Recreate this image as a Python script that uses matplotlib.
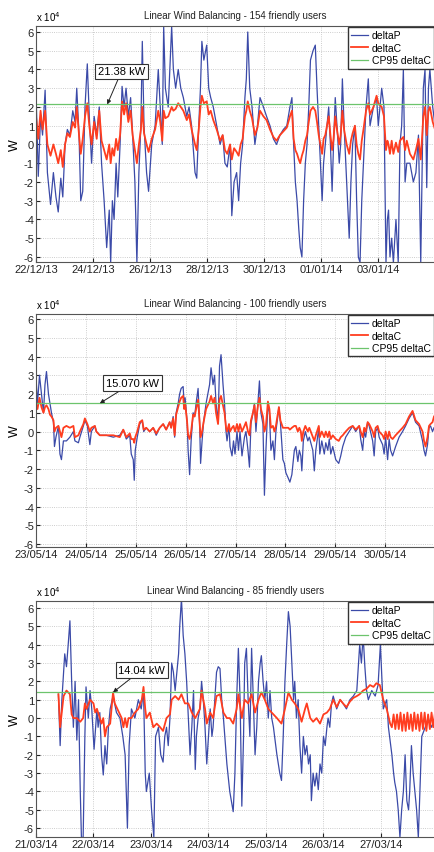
import matplotlib
matplotlib.use('Agg')
import matplotlib.pyplot as plt
import matplotlib.dates as mdates
import pandas as pd

plt.rcParams['font.family'] = ['Liberation Sans', 'DejaVu Sans']
plt.rcParams['axes.unicode_minus'] = False

# ---------------- Panel 1 : 154 friendly users (values in x10^4 W) ----------------
p1_title = 'Linear Wind Balancing - 154 friendly users'
p1_start = '2013-12-22'
p1_span = 14.0
p1_ticks = pd.date_range('2013-12-22', '2014-01-03', freq='2D')
p1_cp95 = 2.138
p1_note = '21.38 kW'
p1_days = [0.00, 0.08, 0.16, 0.23, 0.32, 0.40, 0.51, 0.61, 0.70, 0.78,
           0.87, 0.94, 1.02, 1.10, 1.19, 1.29, 1.37, 1.43, 1.51, 1.57,
           1.64, 1.72, 1.80, 1.87, 1.95, 2.04, 2.13, 2.22, 2.30, 2.39,
           2.48, 2.57, 2.62, 2.68, 2.74, 2.81, 2.87, 2.95, 3.02, 3.09,
           3.16, 3.24, 3.32, 3.39, 3.47, 3.54, 3.61, 3.68, 3.73, 3.79,
           3.88, 3.95, 4.06, 4.18, 4.29, 4.36, 4.43, 4.48, 4.54, 4.64,
           4.76, 4.82, 4.90, 4.99, 5.08, 5.17, 5.29, 5.37, 5.46, 5.58,
           5.64, 5.71, 5.77, 5.82, 5.89, 5.99, 6.06, 6.13, 6.22, 6.34,
           6.46, 6.55, 6.63, 6.71, 6.81, 6.87, 6.95, 7.04, 7.11, 7.18,
           7.25, 7.33, 7.38, 7.43, 7.50, 7.58, 7.68, 7.77, 7.86, 7.98,
           8.09, 8.21, 8.33, 8.44, 8.56, 8.68, 8.80, 8.91, 8.98, 9.04,
           9.10, 9.16, 9.22, 9.27, 9.33, 9.39, 9.45, 9.51, 9.57, 9.63,
           9.72, 9.80, 9.86, 9.92, 9.98, 10.04, 10.09, 10.15, 10.21, 10.27,
           10.33, 10.39, 10.44, 10.50, 10.56, 10.64, 10.69, 10.75, 10.81, 10.90,
           10.99, 11.05, 11.11, 11.19, 11.25, 11.31, 11.37, 11.43, 11.49, 11.58,
           11.66, 11.72, 11.84, 11.95, 12.01, 12.13, 12.21, 12.28, 12.33, 12.37,
           12.42, 12.48, 12.54, 12.63, 12.71, 12.77, 12.83, 12.89, 12.95, 13.01,
           13.12, 13.24, 13.33, 13.42, 13.50, 13.59, 13.65, 13.71, 13.77, 13.82,
           13.92, 14.00]
p1_dP = [2.8, -1.7, 1.5, 0.5, 2.9, -1.5, -3.2, -1.5, -2.8, -3.6,
         -1.8, -2.8, 0.0, 0.8, 0.5, 1.8, 1.2, 3.0, 0.5, -3.0,
         -2.5, 2.0, 4.3, 1.5, -1.0, 1.5, 0.5, 2.0, -1.0, -3.0,
         -5.5, -3.5, -6.3, -3.0, -4.0, -1.0, -2.8, 0.0, 3.1, 2.0,
         3.0, 1.5, 2.5, 0.5, -2.0, -6.3, -1.5, 1.0, 5.5, 1.0,
         -1.5, -2.5, 0.0, 1.0, 4.0, 2.0, 0.0, 6.3, 3.0, 2.0,
         6.3, 4.0, 3.0, 4.0, 3.0, 2.5, 1.5, 2.0, 1.0, -1.5,
         -1.8, 1.0, 3.0, 5.5, 4.5, 5.3, 3.0, 2.5, 2.0, 1.0,
         0.0, 0.5, -1.0, -1.2, 0.0, -3.8, -2.0, -1.5, -3.0, -1.0,
         0.0, 2.5, 3.5, 6.0, 3.0, 2.0, 0.0, 1.0, 2.5, 2.0,
         1.5, 1.0, 0.3, 0.0, 0.5, 0.8, 1.0, 2.0, 2.5, 0.0,
         -2.0, -3.0, -4.5, -5.5, -6.0, -3.0, -1.0, 0.0, 2.0, 4.5,
         5.0, 5.3, 3.0, 1.0, -1.0, -3.0, -1.0, 0.0, 1.0, 2.0,
         0.0, -2.5, 0.0, 2.5, 1.0, -1.0, 0.0, 3.5, 1.0, -2.0,
         -5.0, -2.0, 0.0, 1.0, -3.0, -6.0, -6.3, -3.0, -1.0, 2.0,
         3.5, 1.0, 2.0, 2.5, 1.0, 3.0, 2.0, -6.3, -4.0, -3.5,
         -6.0, -5.0, -6.3, -4.0, -6.3, 0.0, 1.0, 4.0, -2.0, -1.0,
         -1.0, -2.0, -1.5, 0.5, -6.3, 3.0, 4.0, -2.3, 3.0, 4.0,
         2.0, 1.0]
p1_dC = [1.5, 0.3, 1.8, 0.8, 1.8, 0.0, -0.6, 0.0, -0.5, -1.0,
         -0.3, -1.2, 0.0, 0.6, 0.4, 1.2, 0.9, 2.0, 0.5, -0.5,
         0.3, 1.5, 2.2, 1.0, 0.0, 1.2, 0.3, 1.8, 0.2, -0.3,
         -0.8, 0.0, -1.0, -0.2, -0.6, 0.3, -0.3, 0.5, 2.3, 1.6,
         2.2, 1.2, 1.8, 0.5, -0.3, -1.0, 0.0, 0.8, 2.0, 0.6,
         0.0, -0.4, 0.3, 0.8, 1.8, 1.2, 0.2, 1.8, 1.4, 1.5,
         2.0, 1.8, 1.9, 2.2, 2.0, 1.8, 1.3, 1.6, 0.8, 0.0,
         -0.3, 0.8, 2.0, 2.6, 2.2, 2.3, 1.6, 1.8, 1.3, 0.8,
         0.2, 0.5, -0.3, -0.5, 0.0, -0.8, -0.2, -0.4, -0.6, 0.0,
         0.3, 1.5, 1.8, 2.3, 1.8, 1.4, 0.5, 0.9, 1.8, 1.5,
         1.3, 0.8, 0.4, 0.2, 0.5, 0.7, 0.9, 1.5, 1.8, 0.3,
         -0.3, -0.5, -0.8, -1.0, -0.6, -0.3, 0.2, 0.5, 1.2, 1.8,
         2.0, 1.8, 1.2, 0.5, 0.0, -0.5, 0.3, 0.5, 1.0, 1.5,
         0.5, -0.3, 0.3, 1.5, 0.8, 0.0, 0.5, 1.8, 0.8, 0.0,
         -0.5, 0.2, 0.6, 1.0, 0.0, -0.5, -0.8, 0.2, 0.8, 1.8,
         2.2, 1.6, 2.0, 2.6, 2.2, 2.0, 1.5, -0.3, 0.2, 0.0,
         -0.5, 0.2, -0.5, 0.1, -0.4, 0.2, 0.3, 0.4, -0.3, 0.2,
         -0.5, -0.8, -0.3, 0.3, -0.8, 1.5, 2.0, 0.5, 1.8, 2.0,
         1.2, 0.8]

# ---------------- Panel 2 : 100 friendly users ----------------
p2_title = 'Linear Wind Balancing - 100 friendly users'
p2_start = '2014-05-23'
p2_span = 8.0
p2_ticks = pd.date_range('2014-05-23', '2014-05-30', freq='D')
p2_cp95 = 1.507
p2_note = '15.070 kW'
p2_days = [0.00, 0.03, 0.07, 0.11, 0.15, 0.18, 0.21, 0.25, 0.28, 0.31,
           0.35, 0.37, 0.40, 0.45, 0.48, 0.51, 0.55, 0.61, 0.68, 0.75,
           0.78, 0.85, 0.88, 0.95, 0.98, 1.03, 1.08, 1.11, 1.18, 1.21,
           1.28, 1.41, 1.55, 1.68, 1.75, 1.81, 1.88, 1.91, 1.95, 1.97,
           1.99, 2.03, 2.08, 2.13, 2.16, 2.21, 2.28, 2.35, 2.41, 2.48,
           2.55, 2.61, 2.68, 2.71, 2.75, 2.78, 2.81, 2.85, 2.88, 2.91,
           2.95, 2.97, 2.99, 3.03, 3.05, 3.08, 3.11, 3.15, 3.18, 3.21,
           3.25, 3.28, 3.30, 3.33, 3.36, 3.41, 3.48, 3.51, 3.55, 3.58,
           3.61, 3.65, 3.68, 3.71, 3.75, 3.78, 3.81, 3.83, 3.87, 3.89,
           3.93, 3.96, 3.99, 4.03, 4.06, 4.09, 4.13, 4.18, 4.21, 4.25,
           4.28, 4.31, 4.35, 4.38, 4.41, 4.45, 4.48, 4.51, 4.55, 4.58,
           4.61, 4.65, 4.68, 4.71, 4.75, 4.78, 4.81, 4.87, 4.90, 4.95,
           4.98, 5.01, 5.06, 5.09, 5.13, 5.18, 5.21, 5.25, 5.28, 5.31,
           5.33, 5.36, 5.40, 5.45, 5.48, 5.55, 5.58, 5.61, 5.67, 5.69,
           5.73, 5.78, 5.81, 5.85, 5.88, 5.91, 5.95, 6.01, 6.07, 6.11,
           6.15, 6.21, 6.28, 6.35, 6.41, 6.48, 6.51, 6.55, 6.58, 6.61,
           6.65, 6.68, 6.75, 6.78, 6.81, 6.85, 6.88, 6.95, 6.98, 7.01,
           7.05, 7.08, 7.11, 7.15, 7.21, 7.28, 7.35, 7.41, 7.48, 7.55,
           7.61, 7.68, 7.75, 7.78, 7.81, 7.85, 7.88, 7.91, 7.95, 7.98]
p2_dP = [2.9, 1.5, 3.0, 2.0, 1.0, 2.5, 3.2, 2.0, 1.5, 1.0,
         0.5, -0.8, -0.3, 0.3, -1.2, -1.5, -0.5, -0.5, -0.3, 0.0,
         -0.5, -0.6, -0.3, 0.3, 0.6, 0.3, -0.7, 0.0, 0.3, 0.0,
         -0.2, -0.2, -0.3, -0.2, 0.1, -0.4, -0.2, -1.2, -1.5, -2.6,
         -1.0, -0.3, 0.4, 0.6, 0.0, 0.2, 0.0, 0.2, -0.2, 0.2,
         0.4, 0.1, 0.5, 0.2, 0.8, -0.3, 1.0, 1.5, 2.0, 2.3,
         2.4, 1.5, 1.8, 0.5, -1.0, -2.3, -0.5, 1.0, 0.8, 1.5,
         2.3, 0.5, -1.7, -0.5, 0.5, 1.5, 2.5, 3.4, 2.5, 3.0,
         1.5, 0.5, 3.5, 4.1, 2.5, 1.5, 0.0, -0.5, 0.3, -0.8,
         -1.3, -0.5, -1.2, 0.0, -1.0, 0.0, -1.3, -0.3, 0.0, -1.0,
         -1.9, 0.4, 1.0, 1.5, 0.0, 1.5, 2.7, 1.0, 0.4, -3.4,
         -1.0, 1.5, 1.0, -1.0, -0.5, -1.5, 0.0, 1.3, 0.5, -1.5,
         -1.7, -2.2, -2.5, -2.7, -2.3, -1.0, -0.8, -1.6, -1.0, -1.3,
         -2.1, -0.5, 0.0, -0.5, -0.3, -1.0, -2.1, -1.0, 0.2, -1.2,
         -0.5, -1.2, -0.6, -1.0, -0.4, -1.2, -0.8, -1.5, -1.7, -1.3,
         -0.8, -0.3, 0.0, 0.3, 0.0, 0.3, -0.4, -1.0, 0.0, -0.3,
         0.5, 0.3, -0.5, -1.3, 0.0, 0.2, -0.3, -0.7, -1.2, -0.3,
         -1.5, -0.4, -1.0, -1.3, -0.8, -0.3, 0.0, 0.3, 0.7, 1.0,
         0.5, 0.3, -0.5, -1.0, -1.3, -0.7, 0.2, 0.3, 0.0, 0.2]
p2_dC = [1.5, 1.2, 1.8, 1.3, 1.0, 1.3, 1.4, 1.2, 0.9, 0.8,
         0.6, 0.0, 0.2, 0.3, 0.0, -0.3, 0.2, 0.3, 0.2, 0.3,
         -0.3, -0.2, 0.0, 0.4, 0.7, 0.4, 0.0, 0.2, 0.3, 0.0,
         -0.2, -0.2, -0.2, -0.3, 0.1, -0.3, -0.1, -0.4, -0.4, -0.6,
         -0.3, 0.0, 0.5, 0.6, 0.1, 0.2, 0.0, 0.2, -0.1, 0.2,
         0.4, 0.1, 0.5, 0.2, 0.7, -0.2, 0.9, 1.3, 1.6, 1.8,
         1.9, 1.2, 1.5, 0.5, -0.2, -0.4, 0.0, 0.9, 0.8, 1.2,
         1.7, 0.5, -0.3, 0.0, 0.5, 1.2, 1.6, 1.9, 1.5, 1.8,
         1.0, 0.4, 1.7, 1.9, 1.4, 1.0, 0.2, 0.0, 0.4, 0.0,
         0.2, 0.3, 0.0, 0.4, 0.0, 0.4, 0.0, 0.3, 0.5, 0.0,
         -0.2, 0.6, 1.0, 1.4, 0.5, 1.4, 1.8, 1.2, 0.8, 0.0,
         0.3, 1.6, 1.2, 0.2, 0.3, 0.0, 0.3, 1.3, 0.6, 0.2,
         0.2, 0.2, 0.2, 0.1, 0.2, 0.3, 0.3, 0.0, 0.2, 0.0,
         -0.5, 0.0, 0.3, 0.0, 0.2, -0.3, -0.5, -0.2, 0.3, -0.3,
         0.0, -0.3, 0.0, -0.3, 0.0, -0.4, -0.2, -0.4, -0.5, -0.3,
         -0.2, 0.0, 0.2, 0.3, 0.1, 0.3, 0.0, -0.3, 0.2, 0.0,
         0.5, 0.4, 0.0, -0.3, 0.2, 0.3, 0.0, -0.2, -0.4, 0.0,
         -0.4, 0.0, -0.3, -0.4, -0.2, 0.0, 0.2, 0.4, 0.8, 1.1,
         0.6, 0.4, 0.0, -0.5, -0.8, -0.3, 0.3, 0.4, 0.5, 0.8]

# ---------------- Panel 3 : 85 friendly users ----------------
p3_title = 'Linear Wind Balancing - 85 friendly users'
p3_start = '2014-03-21'
p3_span = 6.94
p3_ticks = pd.date_range('2014-03-21', '2014-03-27', freq='D')
p3_cp95 = 1.404
p3_note = '14.04 kW'
p3_days = [0.39, 0.42, 0.45, 0.48, 0.50, 0.53, 0.56, 0.59, 0.62, 0.65,
           0.68, 0.71, 0.74, 0.77, 0.79, 0.82, 0.85, 0.87, 0.91, 0.94,
           0.97, 1.01, 1.06, 1.08, 1.11, 1.14, 1.17, 1.20, 1.23, 1.26,
           1.29, 1.34, 1.40, 1.46, 1.51, 1.55, 1.59, 1.62, 1.66, 1.72,
           1.78, 1.83, 1.87, 1.90, 1.92, 1.97, 2.01, 2.05, 2.08, 2.13,
           2.17, 2.21, 2.24, 2.27, 2.30, 2.33, 2.36, 2.39, 2.42, 2.45,
           2.48, 2.50, 2.53, 2.56, 2.59, 2.62, 2.65, 2.68, 2.71, 2.74,
           2.77, 2.79, 2.82, 2.85, 2.88, 2.91, 2.94, 2.97, 3.00, 3.03,
           3.06, 3.08, 3.11, 3.14, 3.17, 3.20, 3.23, 3.26, 3.32, 3.37,
           3.43, 3.46, 3.49, 3.52, 3.55, 3.58, 3.61, 3.63, 3.66, 3.69,
           3.72, 3.75, 3.78, 3.81, 3.84, 3.87, 3.90, 3.92, 3.95, 3.98,
           4.01, 4.04, 4.07, 4.10, 4.13, 4.19, 4.24, 4.27, 4.30, 4.33,
           4.36, 4.39, 4.42, 4.45, 4.48, 4.50, 4.53, 4.56, 4.59, 4.62,
           4.65, 4.68, 4.71, 4.74, 4.77, 4.79, 4.82, 4.85, 4.88, 4.91,
           4.94, 4.97, 5.00, 5.03, 5.06, 5.08, 5.11, 5.14, 5.17, 5.23,
           5.29, 5.34, 5.40, 5.46, 5.52, 5.58, 5.61, 5.63, 5.66, 5.69,
           5.72, 5.75, 5.78, 5.84, 5.90, 5.95, 5.99, 6.04, 6.10, 6.13,
           6.19, 6.22, 6.24, 6.27, 6.30, 6.33, 6.36, 6.39, 6.42, 6.45,
           6.48, 6.50, 6.53, 6.56, 6.59, 6.62, 6.65, 6.71, 6.77, 6.82,
           6.88, 6.94]
p3_dP = [1.3, -1.5, 1.0, 2.5, 3.5, 2.8, 4.0, 5.3, 2.0, -0.5,
         2.0, -1.2, 1.0, -4.0, -6.5, -6.5, -1.0, 1.7, 0.0, 1.5,
         0.5, -1.7, 0.5, -0.5, 0.3, -2.0, -3.1, -1.5, -2.5, -0.5,
         0.5, 1.2, 0.3, 0.0, -1.0, -2.0, -6.0, -1.5, 0.5, 0.0,
         1.0, 0.5, 1.5, -3.0, -4.0, -3.0, -5.0, -6.5, -1.0, -0.5,
         -2.0, -2.4, -1.0, -0.5, -1.5, 0.0, 3.0, 2.5, 1.5, 2.5,
         3.5, 5.0, 6.5, 4.5, 3.5, 2.0, 0.0, -2.0, -0.5, 1.5,
         -2.8, -1.0, 0.0, 0.5, 2.0, 1.0, -0.5, -2.5, -1.0, 0.5,
         -1.0, -0.5, 1.0, 2.5, 2.8, 2.7, 1.0, 0.0, -2.5, -4.0,
         -5.1, -3.0, 1.0, 3.8, 1.0, -4.8, -1.0, 3.0, 3.8, 1.0,
         -1.0, 3.8, 1.0, -2.0, -0.5, 2.0, 3.0, 3.4, 2.0, 1.0,
         2.0, 0.0, 1.5, 0.0, -0.5, -2.0, -3.0, -3.4, -1.0, 2.0,
         4.0, 5.8, 5.0, 3.0, 1.0, 2.0, 0.0, 1.0, -1.5, -3.0,
         -1.0, -2.0, -1.5, -2.5, -2.0, -4.5, -3.0, -3.7, -3.0, -3.9,
         -2.5, -3.0, -1.0, -1.5, -0.5, 0.0, -0.5, 0.8, 1.2, 0.5,
         1.0, 0.8, 0.5, 1.0, 1.2, 1.5, 3.0, 4.0, 3.0, 4.5,
         2.8, 1.5, 1.0, 1.5, 1.2, 1.8, 4.0, 0.5, 1.0, -0.5,
         -2.0, -3.0, -3.5, -4.0, -5.0, -6.5, -5.0, -4.0, -2.0, -4.5,
         -5.0, -4.0, -1.5, -3.0, -4.0, -5.0, -6.5, -1.0, -0.5, 0.0,
         -0.5, 0.0]
p3_c_days = [0.39, 0.42, 0.48, 0.53, 0.59, 0.62, 0.65, 0.71, 0.77, 0.82,
             0.85, 0.88, 0.94, 1.00, 1.03, 1.06, 1.11, 1.14, 1.17, 1.20,
             1.23, 1.29, 1.34, 1.37, 1.49, 1.52, 1.55, 1.58, 1.61, 1.66,
             1.72, 1.78, 1.84, 1.87, 1.90, 1.92, 1.98, 2.04, 2.10, 2.16,
             2.21, 2.27, 2.33, 2.36, 2.42, 2.48, 2.53, 2.59, 2.65, 2.71,
             2.77, 2.85, 2.88, 2.94, 2.97, 3.03, 3.08, 3.14, 3.20, 3.26,
             3.32, 3.37, 3.43, 3.49, 3.52, 3.58, 3.63, 3.69, 3.75, 3.81,
             3.87, 3.92, 3.98, 4.04, 4.10, 4.19, 4.27, 4.33, 4.39, 4.45,
             4.50, 4.56, 4.62, 4.68, 4.71, 4.77, 4.82, 4.88, 4.94, 5.00,
             5.06, 5.11, 5.17, 5.23, 5.29, 5.34, 5.40, 5.46, 5.52, 5.58,
             5.63, 5.69, 5.75, 5.81, 5.87, 5.92, 5.98, 6.04, 6.10, 6.16,
             6.19, 6.22, 6.25, 6.28, 6.31, 6.34, 6.37, 6.40, 6.43, 6.46,
             6.49, 6.52, 6.55, 6.58, 6.61, 6.64, 6.67, 6.70, 6.73, 6.76,
             6.79, 6.82, 6.85, 6.88, 6.91, 6.94]
p3_dC = [1.3, -0.5, 1.2, 1.5, 1.3, 0.2, 0.0, 0.0, -0.2, 0.0,
         0.8, 0.5, 1.0, 0.8, 0.3, 0.5, 0.0, -0.3, 0.0, -1.0,
         -0.5, -0.3, 1.4, 0.8, 0.0, -0.5, 0.0, -0.5, 0.0, 0.0,
         0.3, 0.5, 1.0, 1.7, 0.5, 0.0, 0.3, -0.5, -0.3, -0.5,
         -0.7, 0.0, 0.2, 1.0, 1.2, 1.0, 1.3, 0.8, 0.8, 0.3,
         0.0, 0.5, 1.5, 0.5, -0.3, 0.3, 0.0, 1.2, 1.3, 0.3,
         0.0, 0.0, -0.3, 0.5, 1.3, 0.0, 1.0, 0.8, 1.3, 0.3,
         1.0, 1.4, 1.0, 0.5, 0.3, 0.0, -0.3, 0.5, 1.4, 1.0,
         0.8, 0.5, -0.2, 0.5, 0.8, 0.0, -0.2, 0.0, -0.3, 0.2,
         0.3, 0.5, 1.0, 0.6, 1.0, 0.8, 0.6, 0.9, 1.1, 1.2,
         1.3, 1.5, 1.6, 1.8, 1.7, 1.9, 1.8, 1.0, 0.5, -0.3,
         -0.5, 0.2, -0.6, 0.2, -0.6, 0.3, -0.7, 0.2, -0.7, 0.3,
         -0.6, 0.2, -0.7, 0.3, -0.6, 0.2, -0.7, 0.3, -0.6, 0.3,
         -0.7, 0.2, -0.6, 0.3, -0.5, 0.3]

# ---------------- Styling ----------------
BLUE = '#3b4aa8'
RED = '#ff3d1f'
GREEN = '#6cc46c'
W, H = 435, 853
panels = [
    dict(title=p1_title, start=p1_start, span=p1_span, ticks=p1_ticks, cp=p1_cp95, note=p1_note,
         pd_=p1_days, dP=p1_dP, cd=p1_days, dC=p1_dC, ylim=(-6.27, 6.32),
         box=(27, 263), note_xy=(3.0, 3.9), tip=2.5),
    dict(title=p2_title, start=p2_start, span=p2_span, ticks=p2_ticks, cp=p2_cp95, note=p2_note,
         pd_=p2_days, dP=p2_dP, cd=p2_days, dC=p2_dC, ylim=(-6.16, 6.27),
         box=(315, 548), note_xy=(1.94, 2.6), tip=1.28),
    dict(title=p3_title, start=p3_start, span=p3_span, ticks=p3_ticks, cp=p3_cp95, note=p3_note,
         pd_=p3_days, dP=p3_dP, cd=p3_c_days, dC=p3_dC, ylim=(-6.48, 6.38),
         box=(602, 838), note_xy=(1.84, 2.63), tip=1.34),
]

fig = plt.figure(figsize=(W / 100, H / 100), dpi=100)
for p in panels:
    top, bot = p['box']
    ax = fig.add_axes([36 / W, 1 - bot / H, 1 - 36 / W, (bot - top) / H])
    t0 = pd.Timestamp(p['start'])
    xP = t0 + pd.to_timedelta(p['pd_'], unit='D')
    xC = t0 + pd.to_timedelta(p['cd'], unit='D')
    ax.plot(xP, p['dP'], color=BLUE, lw=0.9, label='deltaP')
    ax.plot(xC, p['dC'], color=RED, lw=1.3, label='deltaC')
    ax.axhline(p['cp'], color=GREEN, lw=0.9, label='CP95 deltaC')
    ax.set_xlim(t0, t0 + pd.Timedelta(days=p['span']))
    ax.set_ylim(*p['ylim'])
    ax.set_yticks(range(-6, 7))
    ax.set_xticks(p['ticks'])
    ax.xaxis.set_major_formatter(mdates.DateFormatter('%d/%m/%y'))
    ax.tick_params(direction='in', length=3, labelsize=8, pad=1.5, colors='#222222')
    ax.grid(True, color='#bdbdbd', lw=0.6, ls=':')
    for s in ax.spines.values():
        s.set_color('#555555')
        s.set_linewidth(0.8)
    ax.set_ylabel('W', fontsize=9, labelpad=2)
    ax.set_title(p['title'], fontsize=7, pad=6, color='#222222')
    ax.text(0, 1.012, r'x 10$^4$', transform=ax.transAxes, fontsize=7, ha='left', va='bottom')
    ax.legend(loc='upper right', fontsize=7.5, frameon=True, fancybox=False, edgecolor='#333333',
              framealpha=1, handlelength=1.6, handletextpad=0.4, borderpad=0.3, labelspacing=0.25,
              borderaxespad=0.1)
    ax.annotate(p['note'], xy=(t0 + pd.Timedelta(days=p['tip']), p['cp']),
                xytext=(t0 + pd.Timedelta(days=p['note_xy'][0]), p['note_xy'][1]),
                fontsize=8, ha='center', va='center',
                bbox=dict(boxstyle='square,pad=0.25', fc='white', ec='#333333', lw=0.8),
                arrowprops=dict(arrowstyle='-|>', color='#222222', lw=0.7, mutation_scale=6,
                                shrinkA=0, shrinkB=0))

fig.savefig('out.png', dpi=100)
